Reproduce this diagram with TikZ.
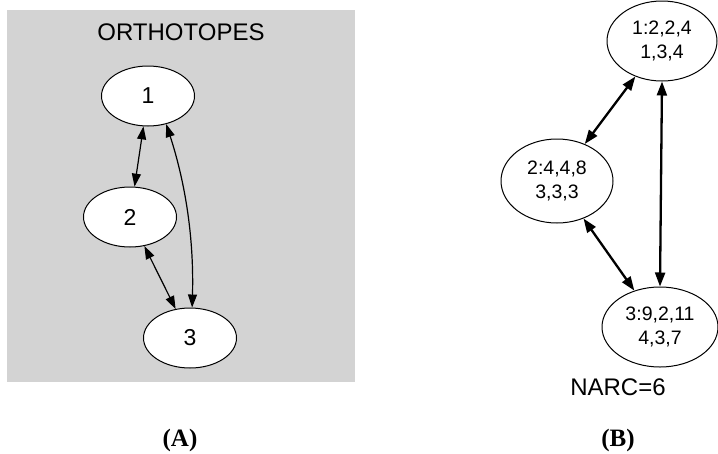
\documentclass[tikz,border=0pt]{standalone}
\usepackage{fontspec}
\setmainfont{Liberation Sans}
\newfontfamily\capfont{Liberation Serif}
\usetikzlibrary{shapes.geometric,arrows.meta}
\definecolor{bggray}{HTML}{D3D3D3}
\begin{document}
\begin{tikzpicture}[x=1pt,y=-1pt,
  lnode/.style={draw,ellipse,fill=white,inner sep=0pt,minimum width=93pt,minimum height=60pt,line width=1pt,font=\fontsize{23}{25}\selectfont},
  rnode/.style={draw,ellipse,fill=white,inner sep=0pt,line width=1pt,align=center,font=\fontsize{19.5}{24}\selectfont},
  larr/.style={{Triangle[length=13pt,width=9pt]}-{Triangle[length=13pt,width=9pt]},line width=1.2pt},
  rarr/.style={{Triangle[length=14pt,width=10pt]}-{Triangle[length=14pt,width=10pt]},line width=2.3pt},
  lbl/.style={font=\fontsize{24}{26}\selectfont},
  caplbl/.style={font=\capfont\bfseries\fontsize{25}{27}\selectfont}]
\useasboundingbox (0,0) rectangle (718,453);
\fill[bggray] (7,10) rectangle (355,382);
\node[lbl] (title) at (181,32) {ORTHOTOPES};
\node[lnode] (l1) at (148,96) {1};
\node[lnode] (l2) at (130,217) {2};
\node[lnode] (l3) at (190,338) {3};
\draw[larr] (l1) -- (l2);
\draw[larr] (l2) -- (l3);
\draw[larr] (l1.-57) .. controls (186,185) and (194,240) .. (l3.86);
\node[rnode,minimum width=110pt,minimum height=80pt] (r1) at (662,41) {1:2,2,4\\ 1,3,4};
\node[rnode,minimum width=112pt,minimum height=84pt] (r2) at (557,181) {2:4,4,8\\ 3,3,3};
\node[rnode,minimum width=116pt,minimum height=80pt] (r3) at (660,327) {3:9,2,11\\ 4,3,7};
\draw[rarr] (r1) -- (r2);
\draw[rarr] (r2) -- (r3);
\draw[rarr] (r1.south) -- (r3.north);
\node[lbl] (narc) at (618,387) {NARC=6};
\node[caplbl] (capa) at (180,440) {(A)};
\node[caplbl] (capb) at (618,440) {(B)};
\end{tikzpicture}
\end{document}
